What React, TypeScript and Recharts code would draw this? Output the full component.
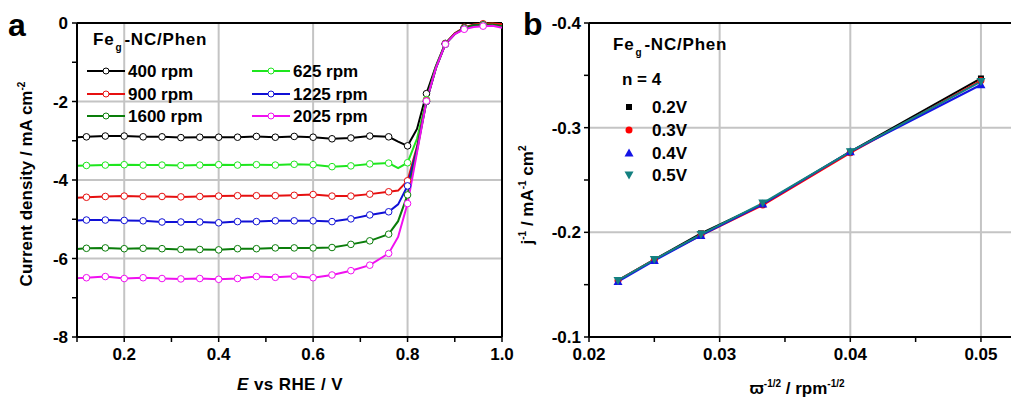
import React from "react";
import { LineChart, Line, XAxis, YAxis, ReferenceLine } from "recharts";

// ----- data: panel a (LSV curves) -----

const E = [0.1, 0.12, 0.16, 0.2, 0.24, 0.28, 0.32, 0.36, 0.4, 0.44, 0.48, 0.52, 0.56, 0.6, 0.64, 0.68, 0.72, 0.76, 0.78, 0.8, 0.82, 0.84, 0.86, 0.88, 0.9, 0.92, 0.94, 0.96, 0.98, 1.0];
const MARKER_E = [0.12, 0.16, 0.2, 0.24, 0.28, 0.32, 0.36, 0.4, 0.44, 0.48, 0.52, 0.56, 0.6, 0.64, 0.68, 0.72, 0.76, 0.8, 0.84, 0.88, 0.92, 0.96];

const J400 = [-2.91, -2.9, -2.88, -2.88, -2.9, -2.9, -2.92, -2.91, -2.91, -2.91, -2.89, -2.91, -2.89, -2.91, -2.95, -2.93, -2.88, -2.9, -3.02, -3.13, -2.7, -1.8, -1.1, -0.52, -0.27, -0.13, -0.06, -0.04, -0.03, -0.06];
const J625 = [-3.64, -3.63, -3.62, -3.61, -3.62, -3.62, -3.63, -3.62, -3.61, -3.62, -3.61, -3.62, -3.6, -3.61, -3.66, -3.64, -3.59, -3.57, -3.7, -3.56, -2.95, -1.95, -1.12, -0.53, -0.27, -0.12, -0.05, -0.03, -0.02, -0.05];
const J900 = [-4.45, -4.44, -4.42, -4.41, -4.42, -4.42, -4.43, -4.42, -4.41, -4.4, -4.4, -4.4, -4.39, -4.37, -4.41, -4.41, -4.36, -4.3, -4.27, -4.02, -3.15, -1.98, -1.14, -0.53, -0.26, -0.11, -0.04, -0.02, -0.01, -0.03];
const J1225 = [-5.03, -5.02, -5.02, -5.03, -5.04, -5.07, -5.07, -5.07, -5.09, -5.06, -5.06, -5.04, -5.04, -5.04, -5.06, -4.99, -4.89, -4.81, -4.62, -4.15, -3.2, -2.0, -1.15, -0.54, -0.28, -0.13, -0.06, -0.05, -0.05, -0.08];
const J1600 = [-5.76, -5.74, -5.73, -5.75, -5.74, -5.75, -5.77, -5.77, -5.78, -5.75, -5.75, -5.73, -5.73, -5.73, -5.72, -5.64, -5.55, -5.38, -5.05, -4.38, -3.25, -2.0, -1.15, -0.54, -0.28, -0.13, -0.06, -0.05, -0.04, -0.08];
const J2025 = [-6.5, -6.49, -6.46, -6.51, -6.49, -6.51, -6.52, -6.51, -6.53, -6.51, -6.46, -6.48, -6.45, -6.49, -6.42, -6.31, -6.17, -5.87, -5.45, -4.6, -3.3, -1.99, -1.15, -0.54, -0.28, -0.16, -0.1, -0.08, -0.07, -0.12];

const A_XTICKS = [0.1, 0.2, 0.3, 0.4, 0.5, 0.6, 0.7, 0.8, 0.9, 1.0];
const A_XLABELS = [0.2, 0.4, 0.6, 0.8, 1.0];
const A_YTICKS = [0, -1, -2, -3, -4, -5, -6, -7, -8];
const A_YLABELS = [0, -2, -4, -6, -8];
const A_XGRID = [0.2, 0.4, 0.6, 0.8];
const A_YGRID = [-2, -4, -6];

// ----- data: panel b (K-L plot) -----

const KL_X = [0.05, 0.04, 0.0333, 0.02857, 0.025, 0.02222];
const KL_02 = [-0.347, -0.277, -0.227, -0.199, -0.174, -0.154];
const KL_03 = [-0.345, -0.276, -0.226, -0.197, -0.174, -0.154];
const KL_04 = [-0.341, -0.277, -0.227, -0.197, -0.173, -0.153];
const KL_05 = [-0.344, -0.277, -0.228, -0.198, -0.174, -0.154];

const B_XTICKS = [0.02, 0.025, 0.03, 0.035, 0.04, 0.045, 0.05];
const B_XLABELS = [0.02, 0.03, 0.04, 0.05];
const B_YTICKS = [-0.4, -0.35, -0.3, -0.25, -0.2, -0.15, -0.1];
const B_YLABELS = [-0.4, -0.3, -0.2, -0.1];
const B_XGRID = [0.03, 0.04, 0.05];
const B_YGRID = [-0.3, -0.2];

const FONT = '"Liberation Sans", Arial, sans-serif';
const GRID = "#c4c4c4";

const LSV = [
  { key: "r400", name: "400 rpm", color: "#000000", values: J400 },
  { key: "r625", name: "625 rpm", color: "#1ee61e", values: J625 },
  { key: "r900", name: "900 rpm", color: "#e61010", values: J900 },
  { key: "r1225", name: "1225 rpm", color: "#1010d6", values: J1225 },
  { key: "r1600", name: "1600 rpm", color: "#0a7d0a", values: J1600 },
  { key: "r2025", name: "2025 rpm", color: "#f010f0", values: J2025 },
];

const KL = [
  { key: "v02", name: "0.2V", color: "#000000", shape: "square", values: KL_02 },
  { key: "v03", name: "0.3V", color: "#ff0000", shape: "circle", values: KL_03 },
  { key: "v04", name: "0.4V", color: "#1414e6", shape: "up", values: KL_04 },
  { key: "v05", name: "0.5V", color: "#138080", shape: "down", values: KL_05 },
];

const lsvRows = E.map((e, i) => {
  const row: Record<string, number> = { e };
  LSV.forEach((s) => (row[s.key] = s.values[i]));
  return row;
});

const klRows = KL_X.map((x, i) => {
  const row: Record<string, number> = { x };
  KL.forEach((s) => (row[s.key] = s.values[i]));
  return row;
});

const tickStyle = { fill: "#000", fontSize: 17, fontWeight: 700, fontFamily: FONT };

function fmt(labels: number[], digits: number) {
  return (v: number) => (labels.some((l) => Math.abs(l - v) < 1e-9) ? v.toFixed(digits) : "");
}

function Marker({ shape, color, cx, cy }: { shape: string; color: string; cx: number; cy: number }) {
  if (shape === "square") return <rect x={cx - 3} y={cy - 3} width={6} height={6} fill={color} />;
  if (shape === "circle") return <circle cx={cx} cy={cy} r={3.5} fill={color} />;
  if (shape === "up") return <path d={`M${cx},${cy - 4.5} L${cx + 4.5},${cy + 3.5} L${cx - 4.5},${cy + 3.5} Z`} fill={color} />;
  return <path d={`M${cx},${cy + 4.5} L${cx + 4.5},${cy - 3.5} L${cx - 4.5},${cy - 3.5} Z`} fill={color} />;
}

function Txt({ x, y, size = 17, children, rotate = 0, anchor = "center", spacing = 0 }: any) {
  const tx = anchor === "center" ? "-50%" : "0";
  return (
    <div
      style={{
        position: "absolute",
        left: x,
        top: y,
        transform: `translate(${tx}, -50%) rotate(${rotate}deg)`,
        fontFamily: FONT,
        fontWeight: 700,
        fontSize: size,
        lineHeight: 1,
        letterSpacing: spacing,
        whiteSpace: "nowrap",
        color: "#000",
      }}
    >
      {children}
    </div>
  );
}

const sup = { fontSize: 10, verticalAlign: "0.7em" } as const;
const sub = { fontSize: 10, verticalAlign: "-0.6em", margin: "0 2px 0 1px" } as const;

function LsvChart() {
  return (
    <LineChart
      width={520}
      height={403}
      data={lsvRows}
      margin={{ top: 23, right: 18, bottom: 36, left: 32 }}
      style={{ position: "absolute", left: 0, top: 0 }}
    >
      {A_XGRID.map((v) => (
        <ReferenceLine key={`gx${v}`} x={v} stroke={GRID} strokeWidth={2} />
      ))}
      {A_YGRID.map((v) => (
        <ReferenceLine key={`gy${v}`} y={v} stroke={GRID} strokeWidth={2} />
      ))}
      <XAxis
        dataKey="e"
        type="number"
        domain={[0.1, 1.0]}
        ticks={A_XTICKS}
        tickFormatter={fmt(A_XLABELS, 1)}
        tick={tickStyle}
        height={30}
        tickSize={5}
        tickMargin={6}
        axisLine={{ stroke: "#000", strokeWidth: 2 }}
        tickLine={{ stroke: "#000", strokeWidth: 1.5 }}
        interval={0}
      />
      <YAxis
        type="number"
        domain={[-8, 0]}
        ticks={A_YTICKS}
        tickFormatter={fmt(A_YLABELS, 0)}
        tick={tickStyle}
        width={45}
        tickSize={5}
        tickMargin={4}
        axisLine={{ stroke: "#000", strokeWidth: 2 }}
        tickLine={{ stroke: "#000", strokeWidth: 1.5 }}
        interval={0}
      />
      <ReferenceLine y={0} stroke="#000" strokeWidth={2} />
      <ReferenceLine x={1.0} stroke="#000" strokeWidth={2} />
      {LSV.map((s) => (
        <Line
          key={s.key}
          dataKey={s.key}
          type="linear"
          stroke={s.color}
          strokeWidth={2}
          isAnimationActive={false}
          dot={(p: any) =>
            MARKER_E.some((m) => Math.abs(m - p.payload.e) < 1e-6) ? (
              <circle key={`${s.key}-${p.index}`} cx={p.cx} cy={p.cy} r={3.3} fill="#fff" stroke={s.color} strokeWidth={1} />
            ) : (
              <g key={`${s.key}-${p.index}`} />
            )
          }
          activeDot={false}
        />
      ))}
    </LineChart>
  );
}

function KlChart() {
  return (
    <LineChart
      width={491}
      height={403}
      data={klRows}
      margin={{ top: 23, right: 0, bottom: 36, left: 24 }}
      style={{ position: "absolute", left: 520, top: 0 }}
    >
      {B_XGRID.map((v) => (
        <ReferenceLine key={`gx${v}`} x={v} stroke={GRID} strokeWidth={2} />
      ))}
      {B_YGRID.map((v) => (
        <ReferenceLine key={`gy${v}`} y={v} stroke={GRID} strokeWidth={2} />
      ))}
      <XAxis
        dataKey="x"
        type="number"
        domain={[0.02, 0.0523]}
        ticks={B_XTICKS}
        tickFormatter={fmt(B_XLABELS, 2)}
        tick={tickStyle}
        height={30}
        tickSize={5}
        tickMargin={6}
        axisLine={{ stroke: "#000", strokeWidth: 2 }}
        tickLine={{ stroke: "#000", strokeWidth: 1.5 }}
        interval={0}
        allowDataOverflow
      />
      <YAxis
        type="number"
        domain={[-0.4, -0.1]}
        reversed
        ticks={B_YTICKS}
        tickFormatter={fmt(B_YLABELS, 1)}
        tick={tickStyle}
        width={45}
        tickSize={5}
        tickMargin={3}
        axisLine={{ stroke: "#000", strokeWidth: 2 }}
        tickLine={{ stroke: "#000", strokeWidth: 1.5 }}
        interval={0}
      />
      <ReferenceLine y={-0.4} stroke="#000" strokeWidth={2} />
      {KL.map((s) => (
        <Line
          key={s.key}
          dataKey={s.key}
          type="linear"
          stroke={s.color}
          strokeWidth={2}
          isAnimationActive={false}
          dot={(p: any) => (
            <g key={`${s.key}-${p.index}`}>
              <Marker shape={s.shape} color={s.color} cx={p.cx} cy={p.cy} />
            </g>
          )}
          activeDot={false}
        />
      ))}
    </LineChart>
  );
}

function LineSample({ color }: { color: string }) {
  return (
    <svg width={38} height={10} style={{ display: "block" }}>
      <line x1={0} y1={5} x2={38} y2={5} stroke={color} strokeWidth={2} />
      <circle cx={19} cy={5} r={3} fill="#fff" stroke={color} strokeWidth={1} />
    </svg>
  );
}

function MarkerSample({ shape, color }: { shape: string; color: string }) {
  return (
    <svg width={12} height={12} style={{ display: "block" }}>
      <Marker shape={shape} color={color} cx={6} cy={6} />
    </svg>
  );
}

const A_LEGEND_POS = [
  { x: 87, y: 71 },
  { x: 252, y: 71 },
  { x: 87, y: 94 },
  { x: 252, y: 94 },
  { x: 87, y: 116 },
  { x: 252, y: 116 },
];

const B_LEGEND_Y = [107, 130, 153, 175];

export default function App() {
  return (
    <div style={{ position: "absolute", left: 0, top: 0, width: 1011, height: 403, background: "#fff", overflow: "hidden" }}>
      <LsvChart />
      <KlChart />

      {/* panel letters */}
      <Txt x={8} y={25} size={32} anchor="left">a</Txt>
      <Txt x={523} y={24} size={32} anchor="left">b</Txt>

      {/* axis titles, panel a */}
      <Txt x={290} y={384} size={17} spacing={0.4}>
        <i>E</i> vs RHE / V
      </Txt>
      <Txt x={26} y={184} size={17} rotate={-90}>
        Current density / mA cm<span style={sup}>-2</span>
      </Txt>

      {/* axis titles, panel b */}
      <Txt x={797} y={388} size={17}>
        ϖ<span style={sup}>-1/2</span> / rpm<span style={sup}>-1/2</span>
      </Txt>
      <Txt x={527} y={195} size={17} rotate={-90}>
        j<span style={sup}>-1</span> / mA<span style={sup}>-1</span> cm<span style={sup}>2</span>
      </Txt>

      {/* legend, panel a */}
      <Txt x={93} y={42} size={17} anchor="left" spacing={0.8}>
        Fe<span style={sub}>g</span>-NC/Phen
      </Txt>
      {LSV.map((s, i) => (
        <div
          key={s.key}
          style={{ position: "absolute", left: A_LEGEND_POS[i].x, top: A_LEGEND_POS[i].y - 5, display: "flex", alignItems: "center" }}
        >
          <LineSample color={s.color} />
        </div>
      ))}
      {LSV.map((s, i) => (
        <Txt key={`t${s.key}`} x={A_LEGEND_POS[i].x + 41} y={A_LEGEND_POS[i].y} size={17} anchor="left">
          {s.name}
        </Txt>
      ))}

      {/* legend, panel b */}
      <Txt x={613} y={47} size={17} anchor="left" spacing={0.8}>
        Fe<span style={sub}>g</span>-NC/Phen
      </Txt>
      <Txt x={622} y={79} size={17} anchor="left">
        n = 4
      </Txt>
      {KL.map((s, i) => (
        <div key={s.key} style={{ position: "absolute", left: 623, top: B_LEGEND_Y[i] - 6 }}>
          <MarkerSample shape={s.shape} color={s.color} />
        </div>
      ))}
      {KL.map((s, i) => (
        <Txt key={`t${s.key}`} x={652} y={B_LEGEND_Y[i]} size={17} anchor="left">
          {s.name}
        </Txt>
      ))}
    </div>
  );
}
